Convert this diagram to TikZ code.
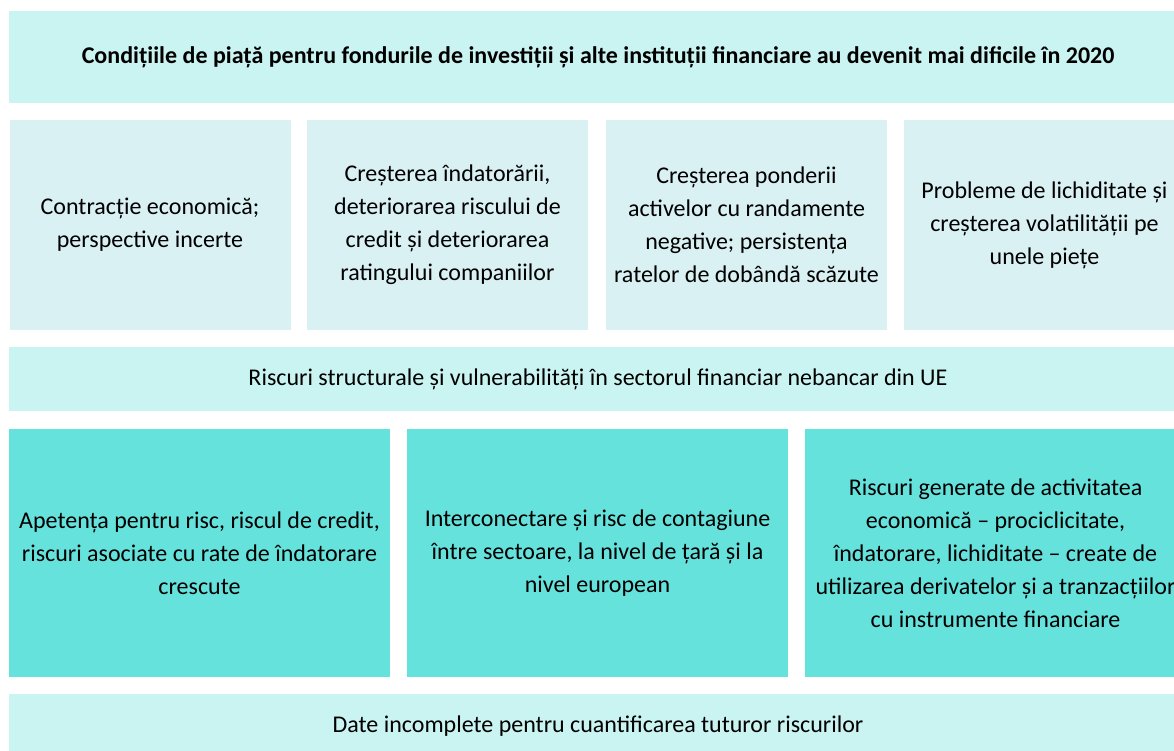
\documentclass[tikz,border=0pt]{standalone}
\usepackage{fontspec}
\setmainfont{Carlito}
\usepackage{tikz}
\usetikzlibrary{positioning}
\definecolor{headfill}{HTML}{CAF4F2}
\definecolor{condfill}{HTML}{DAF1F4}
\definecolor{riskfill}{HTML}{66E2DD}

\begin{document}
\begin{tikzpicture}[x=1pt, y=-1pt, every node/.style={font=\fontsize{24}{33}\selectfont, align=center, inner sep=0pt}]
\tikzset{band/.style={rectangle, fill=headfill, minimum width=1178pt}}
\tikzset{cond/.style={rectangle, fill=condfill, minimum width=281pt, minimum height=210pt}}
\tikzset{risk/.style={rectangle, fill=riskfill, minimum width=381pt, minimum height=248pt}}
\useasboundingbox (0,0) rectangle (1174,751);
\node[band, minimum height=92pt, font=\fontsize{24}{33}\selectfont\bfseries] (title) at (598,57) {Condițiile de piață pentru fondurile de investiții și alte instituții financiare au devenit mai dificile în 2020};
\node[cond] (c1) at (150,225) {Contracție economică;\\perspective incerte};
\node[cond] (c2) at (447.5,225) {Creșterea îndatorării,\\deteriorarea riscului de\\credit și deteriorarea\\ratingului companiilor};
\node[cond] (c3) at (746.5,225) {Creșterea ponderii\\activelor cu randamente\\negative; persistența\\ratelor de dobândă scăzute};
\node[cond] (c4) at (1044.5,225) {Probleme de lichiditate și\\creșterea volatilității pe\\unele piețe};
\node[band, minimum height=64pt] (vuln) at (598,379) {Riscuri structurale și vulnerabilități în sectorul financiar nebancar din UE};
\node[risk] (r1) at (199.5,553) {Apetența pentru risc, riscul de credit,\\riscuri asociate cu rate de îndatorare\\crescute};
\node[risk] (r2) at (597.5,553) {Interconectare și risc de contagiune\\între sectoare, la nivel de țară și la\\nivel european};
\node[risk] (r3) at (995.5,553) {Riscuri generate de activitatea\\economică – prociclicitate,\\îndatorare, lichiditate – create de\\utilizarea derivatelor și a tranzacțiilor\\cu instrumente financiare};
\node[band, minimum height=64pt] (data) at (598,726) {Date incomplete pentru cuantificarea tuturor riscurilor};
\end{tikzpicture}
\end{document}
